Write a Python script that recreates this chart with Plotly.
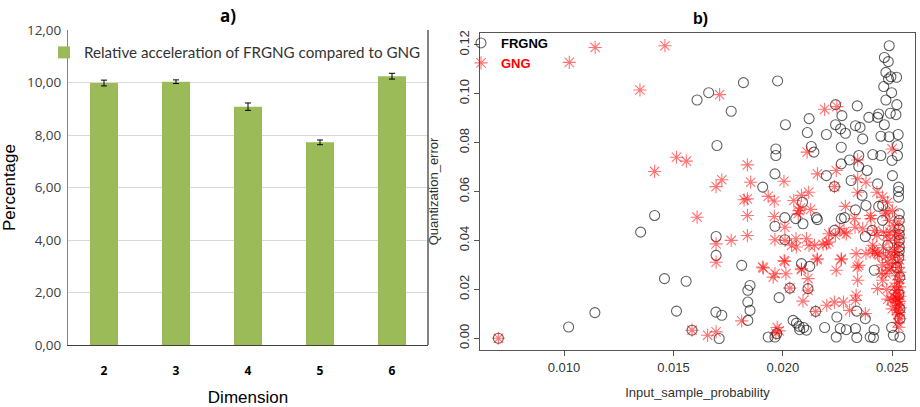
import plotly.graph_objects as go

# ---------------- panel a) : relative acceleration per dimension ----------------
DIMENSIONS = ["2", "3", "4", "5", "6"]
ACCELERATION = [9.98, 10.03, 9.08, 7.72, 10.24]
ACCELERATION_ERR = [0.11, 0.07, 0.14, 0.09, 0.11]
Y_TICKS_A = [0, 2, 4, 6, 8, 10, 12]
Y_TICKTEXT_A = ["0,00", "2,00", "4,00", "6,00", "8,00", "10,00", "12,00"]

# ---------------- panel b) : quantization error vs input sample probability -----
X_TICKS_B = [0.010, 0.015, 0.020, 0.025]
Y_TICKS_B = [0.00, 0.02, 0.04, 0.06, 0.08, 0.10, 0.12]

FRGNG_POINTS = [
    (0.01608, 0.0974), (0.01661, 0.1004), (0.01820, 0.1045), (0.01764, 0.0928),
    (0.01976, 0.1052), (0.02012, 0.0873), (0.02241, 0.0955), (0.02270, 0.0910),
    (0.02120, 0.0898), (0.02112, 0.0841), (0.02199, 0.0833), (0.02241, 0.0873),
    (0.02264, 0.0856), (0.02286, 0.0838), (0.02340, 0.0950), (0.02332, 0.0869),
    (0.02353, 0.0862), (0.02365, 0.0815), (0.02393, 0.0903), (0.02438, 0.0917),
    (0.02433, 0.0903), (0.02464, 0.0873), (0.02486, 0.1196), (0.02464, 0.1148),
    (0.02482, 0.1131), (0.02471, 0.1087), (0.02483, 0.1060), (0.02494, 0.1069),
    (0.02520, 0.1067), (0.02461, 0.1029), (0.02497, 0.1004), (0.02471, 0.0974),
    (0.02521, 0.0955), (0.02491, 0.0920), (0.02517, 0.0914), (0.02448, 0.0826),
    (0.02486, 0.0824), (0.02527, 0.0833),
    (0.01699, 0.0788), (0.01414, 0.0502), (0.01350, 0.0434), (0.01695, 0.0416),
    (0.01695, 0.0339), (0.01812, 0.0298), (0.01908, 0.0618), (0.01968, 0.0774),
    (0.01968, 0.0747), (0.01964, 0.0672), (0.02009, 0.0493), (0.01964, 0.0458),
    (0.02009, 0.0403), (0.02085, 0.0305), (0.02123, 0.0294), (0.02059, 0.0489),
    (0.02090, 0.0556), (0.02092, 0.0468), (0.02153, 0.0493), (0.02158, 0.0485),
    (0.02130, 0.0784), (0.02142, 0.0761), (0.02199, 0.0665), (0.02236, 0.0620),
    (0.02267, 0.0781), (0.02267, 0.0713), (0.02305, 0.0729), (0.02347, 0.0747),
    (0.02347, 0.0702), (0.02385, 0.0686), (0.02312, 0.0645), (0.02411, 0.0751),
    (0.02448, 0.0747), (0.02524, 0.0788), (0.02524, 0.0747), (0.02499, 0.0727),
    (0.02501, 0.0665), (0.02362, 0.0584), (0.02433, 0.0631), (0.02438, 0.0539),
    (0.02456, 0.0543), (0.02529, 0.0618), (0.02529, 0.0600), (0.02529, 0.0577),
    (0.02332, 0.0525), (0.02380, 0.0543), (0.02267, 0.0489), (0.02282, 0.0493),
    (0.02236, 0.0441), (0.02377, 0.0416), (0.02408, 0.0441), (0.02456, 0.0482),
    (0.02532, 0.0509), (0.02532, 0.0482), (0.02532, 0.0448), (0.02532, 0.0424),
    (0.02532, 0.0400), (0.02479, 0.0380), (0.02532, 0.0373), (0.02532, 0.0357),
    (0.02418, 0.0278), (0.02530, 0.0330), (0.02520, 0.0290), (0.02535, 0.0250),
    (0.02530, 0.0180), (0.02535, 0.0120), (0.02535, 0.0080),
    (0.01459, 0.0244), (0.01558, 0.0233), (0.01141, 0.0105), (0.01514, 0.0111),
    (0.01694, 0.0107), (0.01721, 0.0094), (0.01585, 0.0033), (0.01709, -0.0001),
    (0.01021, 0.0046), (0.00700, 0.0000),
    (0.01850, 0.0216), (0.01840, 0.0196), (0.01840, 0.0148), (0.01850, 0.0114),
    (0.01840, 0.0073), (0.02115, 0.0203), (0.02032, 0.0205), (0.01983, 0.0166),
    (0.01933, 0.0005), (0.01964, 0.0005), (0.01972, 0.0019), (0.02047, 0.0073),
    (0.02062, 0.0062), (0.02074, 0.0049), (0.02095, 0.0044), (0.02108, 0.0033),
    (0.02077, 0.0035), (0.02150, 0.0110), (0.02247, 0.0087), (0.02191, 0.0044),
    (0.02244, 0.0005), (0.02262, 0.0040), (0.02290, 0.0035), (0.02332, 0.0040),
    (0.02338, 0.0003), (0.02338, 0.0111), (0.02377, 0.0080), (0.02399, 0.0005),
    (0.02414, 0.0003), (0.02417, 0.0035), (0.02497, 0.0044), (0.02505, 0.0012),
    (0.02535, 0.0005),
]

GNG_POINTS = [
    (0.01024, 0.1128), (0.01142, 0.1189), (0.01461, 0.1196), (0.01347, 0.1015),
    (0.01711, 0.0996), (0.02191, 0.0936), (0.02247, 0.0947),
    (0.01514, 0.0740), (0.01559, 0.0724), (0.01414, 0.0682), (0.01608, 0.0495),
    (0.01695, 0.0620), (0.01721, 0.0648), (0.01695, 0.0386), (0.01695, 0.0311),
    (0.01764, 0.0400), (0.01838, 0.0709), (0.01853, 0.0638), (0.01823, 0.0566),
    (0.01838, 0.0570), (0.01838, 0.0502), (0.01838, 0.0420), (0.01933, 0.0580),
    (0.01961, 0.0561), (0.02005, 0.0642), (0.01961, 0.0498), (0.02009, 0.0454),
    (0.01964, 0.0403), (0.02062, 0.0373), (0.02006, 0.0318), (0.01956, 0.0250),
    (0.01908, 0.0291), (0.02085, 0.0284), (0.02108, 0.0407), (0.02145, 0.0380),
    (0.02158, 0.0325), (0.02050, 0.0563), (0.02085, 0.0584), (0.02118, 0.0597),
    (0.02074, 0.0522), (0.02127, 0.0527), (0.02080, 0.0532), (0.02070, 0.0509),
    (0.02060, 0.0407), (0.02010, 0.0400),
    (0.02111, 0.0761), (0.02158, 0.0672), (0.02236, 0.0620), (0.02244, 0.0686),
    (0.02342, 0.0729), (0.02342, 0.0652), (0.02499, 0.0774), (0.02342, 0.0597),
    (0.02380, 0.0638), (0.02430, 0.0597), (0.02456, 0.0577), (0.02479, 0.0556),
    (0.02327, 0.0489), (0.02286, 0.0539), (0.02260, 0.0448), (0.02280, 0.0434),
    (0.02290, 0.0427), (0.02240, 0.0421), (0.02330, 0.0454), (0.02365, 0.0448),
    (0.02403, 0.0489), (0.02486, 0.0482), (0.02471, 0.0509), (0.02501, 0.0522),
    (0.02470, 0.0516), (0.02400, 0.0502), (0.02420, 0.0441), (0.02430, 0.0420),
    (0.02460, 0.0434), (0.02490, 0.0434), (0.02210, 0.0427), (0.02210, 0.0393),
    (0.02411, 0.0380), (0.02420, 0.0352), (0.02335, 0.0346), (0.02340, 0.0291),
    (0.02244, 0.0278), (0.02267, 0.0325), (0.02199, 0.0386),
    (0.01911, 0.0287), (0.02009, 0.0314), (0.01964, 0.0264), (0.02014, 0.0264),
    (0.02085, 0.0280), (0.02156, 0.0321), (0.02267, 0.0321), (0.02040, 0.0380),
    (0.02120, 0.0380), (0.02184, 0.0384), (0.02115, 0.0244), (0.02115, 0.0196),
    (0.02032, 0.0205), (0.02092, 0.0152), (0.01812, 0.0071), (0.01974, 0.0044),
    (0.01983, 0.0030), (0.01968, 0.0020), (0.02150, 0.0110), (0.02201, 0.0135),
    (0.02236, 0.0148), (0.02277, 0.0148), (0.02332, 0.0155), (0.02335, 0.0176),
    (0.02305, 0.0114), (0.02377, 0.0101), (0.02433, 0.0203), (0.02456, 0.0237),
    (0.02471, 0.0264), (0.02486, 0.0278), (0.02494, 0.0155), (0.02347, 0.0298),
    (0.02342, 0.0237), (0.02380, 0.0346), (0.02410, 0.0360), (0.02433, 0.0346),
    (0.01585, 0.0033), (0.01656, 0.0012), (0.01695, 0.0026), (0.00700, 0.0000),
    (0.02530, 0.0045), (0.02525, 0.0065), (0.02535, 0.0080), (0.02528, 0.0095),
    (0.02532, 0.0105), (0.02522, 0.0115), (0.02536, 0.0125), (0.02528, 0.0135),
    (0.02520, 0.0145), (0.02533, 0.0150), (0.02526, 0.0160), (0.02515, 0.0165),
    (0.02535, 0.0172), (0.02529, 0.0185), (0.02520, 0.0195), (0.02534, 0.0210),
    (0.02526, 0.0225), (0.02532, 0.0240), (0.02522, 0.0255), (0.02535, 0.0270),
    (0.02528, 0.0290), (0.02515, 0.0305), (0.02533, 0.0320), (0.02525, 0.0340),
    (0.02510, 0.0355), (0.02530, 0.0370), (0.02520, 0.0390), (0.02535, 0.0410),
    (0.02515, 0.0425), (0.02528, 0.0440), (0.02505, 0.0460), (0.02530, 0.0475),
    (0.02500, 0.0330), (0.02490, 0.0350), (0.02480, 0.0310), (0.02495, 0.0290),
    (0.02470, 0.0335), (0.02485, 0.0400), (0.02460, 0.0370), (0.02475, 0.0420),
    (0.02455, 0.0300), (0.02440, 0.0340), (0.02450, 0.0265), (0.02505, 0.0170),
    (0.02510, 0.0210), (0.02500, 0.0120), (0.02480, 0.0160), (0.02475, 0.0200),
]

W, H = 920, 407


def px_x(p):
    return p / W


def px_y(p):
    return 1 - p / H


fig = go.Figure()

# --- bars with error bars ---
fig.add_trace(go.Bar(
    x=DIMENSIONS, y=ACCELERATION,
    error_y=dict(type="data", array=ACCELERATION_ERR, color="#000000",
                 thickness=1, width=3),
    marker=dict(color="#9BBB59", line=dict(width=0)),
    name="Relative acceleration of FRGNG compared to GNG",
    xaxis="x", yaxis="y", legend="legend",
))

# --- scatter series ---
fig.add_trace(go.Scatter(
    x=[p[0] for p in FRGNG_POINTS], y=[p[1] for p in FRGNG_POINTS],
    mode="markers", name="<b>FRGNG</b>",
    marker=dict(symbol="circle-open", size=10, color="rgba(0,0,0,0.62)",
                line=dict(width=1.1)),
    xaxis="x2", yaxis="y2", legend="legend2",
))
fig.add_trace(go.Scatter(
    x=[p[0] for p in GNG_POINTS], y=[p[1] for p in GNG_POINTS],
    mode="markers", name="<b><span style='color:#FF0000'>GNG</span></b>",
    marker=dict(symbol="asterisk-open", size=11, color="rgba(255,0,0,0.55)",
                line=dict(width=1.1, color="rgba(255,0,0,0.55)")),
    xaxis="x2", yaxis="y2", legend="legend2",
))

fig.update_layout(
    width=W, height=H,
    margin=dict(l=0, r=0, t=0, b=0, autoexpand=False),
    paper_bgcolor="#FFFFFF", plot_bgcolor="#FFFFFF",
    bargap=0.61,
    xaxis=dict(
        domain=[px_x(68), px_x(428)], anchor="y",
        type="category", showgrid=False,
        showline=True, linecolor="#404040", linewidth=1.3,
        ticks="", tickfont=dict(family="Open Sans", size=12, color="#000000"),
        tickprefix="<b>", ticksuffix="</b>", ticklabelstandoff=14,
        title=dict(text="Dimension", standoff=14,
                   font=dict(family="Liberation Sans", size=17, color="#000000")),
    ),
    yaxis=dict(
        domain=[px_y(345), px_y(30)], anchor="x",
        range=[0, 12], tickvals=Y_TICKS_A, ticktext=Y_TICKTEXT_A,
        showgrid=True, gridcolor="#D9D9D9", gridwidth=1,
        showline=True, linecolor="#868686", linewidth=1,
        zeroline=False, ticks="",
        tickfont=dict(family="Open Sans", size=13.5, color="#404040"),
        ticklabelstandoff=3,
        title=dict(text="Percentage", standoff=12,
                   font=dict(family="Liberation Sans", size=17, color="#000000")),
    ),
    xaxis2=dict(
        domain=[px_x(480), px_x(915)], anchor="y2",
        range=[0.00616, 0.02604], tickvals=X_TICKS_B, tickformat=".3f",
        showgrid=False, zeroline=False,
        showline=True, linecolor="#555555", linewidth=1, mirror=True,
        ticks="outside", ticklen=5, tickcolor="#555555",
        tickfont=dict(family="Liberation Sans", size=13, color="#333333"),
        title=dict(text="Input_sample_probability", standoff=14,
                   font=dict(family="Liberation Sans", size=13, color="#333333")),
    ),
    yaxis2=dict(
        domain=[px_y(350), px_y(33)], anchor="x2",
        range=[-0.0048, 0.1248], tickvals=Y_TICKS_B, tickformat=".2f",
        showgrid=False, zeroline=False,
        showline=True, linecolor="#555555", linewidth=1, mirror=True,
        ticks="outside", ticklen=5, tickcolor="#555555", tickangle=-90,
        tickfont=dict(family="Liberation Sans", size=13, color="#333333"),
        title=dict(text="Quantization_error", standoff=15,
                   font=dict(family="Liberation Sans", size=13, color="#333333")),
    ),
    legend=dict(
        x=px_x(44), y=px_y(36), xanchor="left", yanchor="top",
        bgcolor="rgba(0,0,0,0)",
        font=dict(family="Lato", size=15.2, color="#333333"),
    ),
    legend2=dict(
        x=px_x(461), y=px_y(28), xanchor="left", yanchor="top",
        bgcolor="rgba(0,0,0,0)", tracegroupgap=0, itemwidth=30,
        font=dict(family="Liberation Sans", size=13, color="#000000"),
    ),
    showlegend=True,
    annotations=[
        dict(text="<b>a)</b>", x=px_x(228), y=px_y(15), xref="paper", yref="paper",
             xanchor="center", yanchor="middle",
             showarrow=False, font=dict(family="Open Sans", size=17, color="#000000")),
        dict(text="<b>b)</b>", x=px_x(700), y=px_y(18), xref="paper", yref="paper",
             xanchor="center", yanchor="middle",
             showarrow=False, font=dict(family="Liberation Sans", size=16, color="#000000")),
    ],
    shapes=[
        dict(type="line", xref="x domain", yref="y domain",
             x0=1, x1=1, y0=0, y1=1, line=dict(color="#404040", width=1.3)),
    ],
)

fig.write_html("out.html")
